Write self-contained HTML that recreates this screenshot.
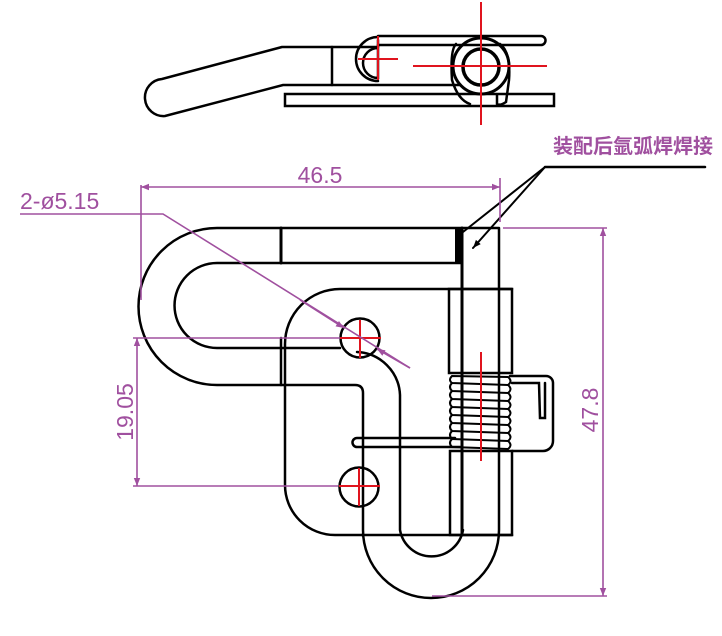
<!DOCTYPE html>
<html><head><meta charset="utf-8"><style>html,body{margin:0;padding:0;background:#fff}svg{display:block}</style></head>
<body>
<svg width="722" height="636" viewBox="0 0 722 636" xmlns="http://www.w3.org/2000/svg">
<defs>
<marker id="a" viewBox="0 0 10 10" refX="10" refY="5" markerWidth="12" markerHeight="8" markerUnits="userSpaceOnUse" orient="auto-start-reverse"><path d="M0,1 L10,5 L0,9 Z" fill="#a0509f"/></marker>
<marker id="b" viewBox="0 0 10 10" refX="10" refY="5" markerWidth="14" markerHeight="8" markerUnits="userSpaceOnUse" orient="auto"><path d="M0,1 L10,5 L0,9 Z" fill="#000"/></marker>
</defs>
<g fill="none" stroke="#000" stroke-width="2.5" stroke-linecap="round">
<path d="M282 47 L378 47 M282 47 L162 79 A17 17 0 0 0 165 116 L283 85 L460 85"/>
<line x1="332" y1="47" x2="332" y2="85"/>
<rect x="285" y="94" width="269" height="12"/>
<path d="M378 36 L541 36 A4.5 4.5 0 0 1 541 45 L378 45"/>
<path d="M378 37 A22 22 0 0 0 378 81 M378 48 A12 12 0 0 0 378 78 L378 40"/>
<circle cx="481" cy="66" r="28" stroke-width="3"/>
<circle cx="481" cy="67" r="18" stroke-width="3.5"/>
<path d="M456 44 Q450 50 452 80 Q458 100 470 104 M500 44 Q511 52 509 80 L506 102 Q500 106 497 104 L497 95"/>
<path d="M499 228 L217 228 A78 78 0 0 0 217 385 L355 385 Q363 385 363 393 L363 530 A68 68 0 0 0 499 530 L499 228"/>
<path d="M462 263 L217 263 A42 42 0 0 0 217 348 L340 348"/>
<line x1="281" y1="228" x2="281" y2="263" stroke-width="3"/>
<line x1="462" y1="228" x2="462" y2="535" stroke-width="3"/>
<path d="M512 289 L340 289 A55 55 0 0 0 285 344 L285 485 A50 50 0 0 0 335 535 L362 535"/>
<line x1="281" y1="338" x2="281" y2="385"/>
<path d="M357 352 A45 45 0 0 1 400 395 L400 530 A32 32 0 0 0 463 530"/>
<circle cx="360" cy="338" r="19.5"/>
<circle cx="359" cy="487" r="19.5"/>
<rect x="449" y="289" width="63" height="84"/>
<rect x="450" y="451" width="62" height="84"/>
<path d="M362 535 L512 535"/>
<path d="M357 438 L455 438 M357 447 L460 447 M357 438 A4.5 4.5 0 0 0 357 447"/>
<path d="M510 376 L546 376 A7 7 0 0 1 553 383 L553 441 A10 10 0 0 1 543 451 L512 451 M512 383 L539 383 L540 418 L545 418 L545 383"/>
<g stroke-width="2">
<path d="M452 376 Q448 380 452 383 L508 385 Q513 381 508 377 Z"/>
<path d="M452 383 Q448 387 452 391 L508 393 Q513 389 508 385"/>
<path d="M452 391 Q448 395 452 399 L508 401 Q513 397 508 393"/>
<path d="M452 399 Q448 403 452 407 L508 409 Q513 405 508 401"/>
<path d="M452 407 Q448 411 452 415 L508 417 Q513 413 508 409"/>
<path d="M452 415 Q448 419 452 423 L508 425 Q513 421 508 417"/>
<path d="M452 423 Q448 427 452 431 L508 433 Q513 429 508 425"/>
<path d="M452 431 Q448 435 452 439 L508 441 Q513 437 508 433"/>
<path d="M452 439 Q448 443 452 447 L508 449 Q513 445 508 441"/>
</g>
<rect x="455" y="228" width="7" height="36" fill="#000" stroke="none"/>
<line x1="545" y1="167" x2="705" y2="167"/>
<line x1="545" y1="167" x2="463" y2="232" stroke-width="2"/>
<line x1="545" y1="167" x2="473" y2="248" stroke-width="2" marker-end="url(#b)"/>
</g>
<g stroke="#e0141e" stroke-width="2">
<line x1="481" y1="2" x2="481" y2="125"/><line x1="413" y1="66" x2="547" y2="66"/>
<line x1="378" y1="36" x2="378" y2="80"/><line x1="358" y1="59" x2="398" y2="59"/>
<line x1="340" y1="338" x2="381" y2="338"/><line x1="360" y1="320" x2="360" y2="358"/>
<line x1="339" y1="486" x2="380" y2="486"/><line x1="359" y1="468" x2="359" y2="506"/>
<line x1="481" y1="352" x2="481" y2="461"/>
</g>
<g stroke="#a0509f" stroke-width="1.6" fill="none">
<line x1="141" y1="185" x2="141" y2="300"/>
<line x1="500" y1="178" x2="500" y2="222"/>
<line x1="141" y1="187" x2="500" y2="187" marker-start="url(#a)" marker-end="url(#a)"/>
<path d="M20 214 L163 214 L410 368"/>
<line x1="300" y1="300" x2="344" y2="328" marker-end="url(#a)"/>
<line x1="410" y1="368" x2="377" y2="349" marker-end="url(#a)"/>
<line x1="133" y1="338" x2="340" y2="338"/>
<line x1="133" y1="486" x2="338" y2="486"/>
<line x1="137" y1="338" x2="137" y2="486" marker-start="url(#a)" marker-end="url(#a)"/>
<line x1="503" y1="228" x2="607" y2="228"/>
<line x1="432" y1="596" x2="607" y2="596"/>
<line x1="603" y1="228" x2="603" y2="596" marker-start="url(#a)" marker-end="url(#a)"/>
</g>
<g fill="#a0509f" font-family="Liberation Sans, sans-serif" font-size="23">
<text x="320" y="183" text-anchor="middle">46.5</text>
<text x="20" y="209">2-ø5.15</text>
<text transform="translate(133,412) rotate(-90)" text-anchor="middle">19.05</text>
<text transform="translate(598,410) rotate(-90)" text-anchor="middle">47.8</text>
<text x="553" y="153" font-family="Liberation Sans, Noto Sans CJK SC, sans-serif" font-size="20" font-weight="bold">装配后氩弧焊焊接</text>
</g>
</svg>
</body></html>
